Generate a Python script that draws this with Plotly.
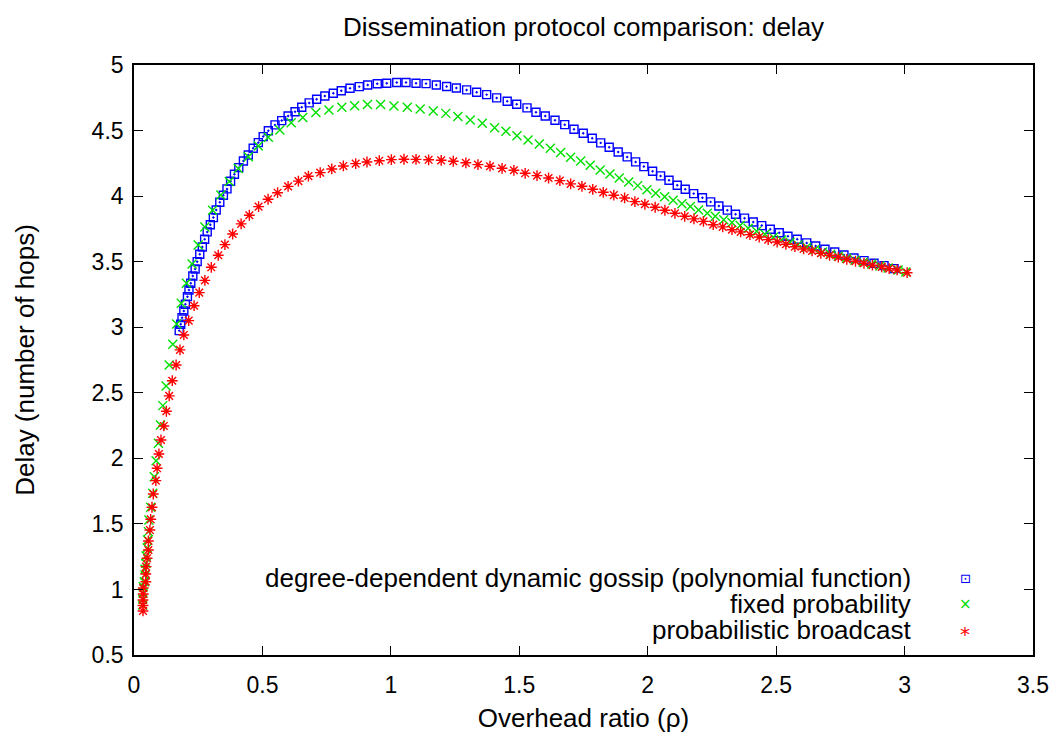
import plotly.graph_objects as go

# ---------------- data ----------------
gossip_overhead = [
    0.176, 0.182, 0.187, 0.194, 0.200, 0.208, 0.214, 0.221, 0.229, 0.238,
    0.246, 0.256, 0.266, 0.275, 0.285, 0.297, 0.309, 0.320, 0.334, 0.348,
    0.362, 0.376, 0.391, 0.408, 0.426, 0.445, 0.464, 0.484, 0.503, 0.523,
    0.549, 0.575, 0.600, 0.627, 0.653, 0.682, 0.711, 0.743, 0.776, 0.807,
    0.841, 0.877, 0.910, 0.947, 0.984, 1.023, 1.059, 1.098, 1.137, 1.177,
    1.217, 1.255, 1.295, 1.334, 1.373, 1.412, 1.453, 1.490, 1.530, 1.565,
    1.601, 1.639, 1.677, 1.713, 1.749, 1.784, 1.817, 1.850, 1.885, 1.920,
    1.953, 1.985, 2.019, 2.050, 2.083, 2.115, 2.146, 2.179, 2.213, 2.245,
    2.277, 2.310, 2.342, 2.377, 2.411, 2.444, 2.477, 2.512, 2.546, 2.582,
    2.619, 2.654, 2.690, 2.728, 2.764, 2.803, 2.842, 2.881, 2.920, 2.959,
]
gossip_delay = [
    2.974, 3.023, 3.073, 3.124, 3.175, 3.233, 3.284, 3.335, 3.391, 3.444,
    3.500, 3.557, 3.612, 3.671, 3.727, 3.782, 3.836, 3.894, 3.953, 4.007,
    4.055, 4.113, 4.167, 4.217, 4.268, 4.314, 4.365, 4.408, 4.454, 4.499,
    4.543, 4.576, 4.611, 4.644, 4.678, 4.711, 4.739, 4.764, 4.785, 4.804,
    4.823, 4.835, 4.848, 4.857, 4.861, 4.866, 4.866, 4.861, 4.858, 4.848,
    4.836, 4.825, 4.810, 4.792, 4.774, 4.749, 4.724, 4.701, 4.673, 4.640,
    4.611, 4.579, 4.545, 4.510, 4.480, 4.441, 4.406, 4.373, 4.337, 4.299,
    4.261, 4.225, 4.190, 4.154, 4.121, 4.083, 4.052, 4.019, 3.988, 3.956,
    3.925, 3.893, 3.862, 3.832, 3.803, 3.775, 3.747, 3.721, 3.694, 3.671,
    3.643, 3.620, 3.595, 3.574, 3.551, 3.528, 3.508, 3.488, 3.470, 3.447,
]

fixed_overhead = [
    0.034, 0.034, 0.035, 0.036, 0.040, 0.043, 0.043, 0.046, 0.047, 0.052,
    0.053, 0.056, 0.058, 0.065, 0.073, 0.079, 0.086, 0.095, 0.103, 0.112,
    0.125, 0.137, 0.151, 0.166, 0.184, 0.204, 0.226, 0.250, 0.276, 0.306,
    0.338, 0.371, 0.406, 0.445, 0.484, 0.523, 0.568, 0.612, 0.657, 0.708,
    0.759, 0.809, 0.859, 0.909, 0.960, 1.012, 1.064, 1.114, 1.165, 1.214,
    1.261, 1.309, 1.356, 1.404, 1.448, 1.491, 1.534, 1.578, 1.621, 1.661,
    1.700, 1.739, 1.776, 1.815, 1.853, 1.889, 1.926, 1.961, 1.997, 2.031,
    2.066, 2.099, 2.133, 2.166, 2.198, 2.232, 2.263, 2.296, 2.328, 2.360,
    2.391, 2.424, 2.457, 2.489, 2.521, 2.554, 2.585, 2.619, 2.651, 2.681,
    2.712, 2.742, 2.774, 2.807, 2.839, 2.872, 2.904, 2.936, 2.975, 3.005,
]
fixed_delay = [
    0.881, 0.927, 0.973, 1.021, 1.059, 1.110, 1.154, 1.200, 1.255, 1.316,
    1.377, 1.441, 1.530, 1.627, 1.733, 1.860, 1.982, 2.115, 2.254, 2.402,
    2.552, 2.712, 2.870, 3.025, 3.183, 3.335, 3.483, 3.627, 3.765, 3.892,
    4.009, 4.112, 4.211, 4.301, 4.383, 4.449, 4.505, 4.560, 4.599, 4.637,
    4.657, 4.678, 4.689, 4.699, 4.699, 4.688, 4.678, 4.665, 4.650, 4.631,
    4.608, 4.581, 4.556, 4.522, 4.495, 4.461, 4.428, 4.398, 4.365, 4.332,
    4.297, 4.268, 4.235, 4.200, 4.169, 4.139, 4.108, 4.080, 4.049, 4.022,
    3.996, 3.968, 3.942, 3.920, 3.894, 3.869, 3.846, 3.820, 3.798, 3.775,
    3.755, 3.732, 3.709, 3.686, 3.666, 3.648, 3.628, 3.610, 3.592, 3.574,
    3.557, 3.541, 3.526, 3.511, 3.496, 3.483, 3.467, 3.452, 3.437, 3.422,
]

broadcast_overhead = [
    0.035, 0.035, 0.035, 0.036, 0.036, 0.046, 0.046, 0.047, 0.051, 0.056,
    0.056, 0.062, 0.065, 0.070, 0.075, 0.085, 0.090, 0.097, 0.105, 0.116,
    0.126, 0.137, 0.149, 0.164, 0.179, 0.194, 0.213, 0.234, 0.254, 0.276,
    0.301, 0.328, 0.354, 0.384, 0.417, 0.449, 0.485, 0.522, 0.559, 0.600,
    0.640, 0.679, 0.725, 0.770, 0.815, 0.863, 0.907, 0.955, 1.002, 1.051,
    1.098, 1.147, 1.196, 1.243, 1.292, 1.339, 1.386, 1.433, 1.479, 1.523,
    1.569, 1.614, 1.658, 1.700, 1.744, 1.786, 1.827, 1.868, 1.910, 1.950,
    1.989, 2.029, 2.067, 2.106, 2.144, 2.180, 2.217, 2.255, 2.292, 2.328,
    2.362, 2.398, 2.434, 2.469, 2.504, 2.538, 2.573, 2.607, 2.640, 2.674,
    2.708, 2.742, 2.775, 2.809, 2.842, 2.875, 2.911, 2.940, 2.971, 3.010,
]
broadcast_delay = [
    0.836, 0.878, 0.920, 0.965, 1.011, 1.059, 1.118, 1.174, 1.238, 1.301,
    1.370, 1.453, 1.535, 1.627, 1.728, 1.830, 1.924, 2.033, 2.140, 2.247,
    2.359, 2.476, 2.592, 2.712, 2.827, 2.941, 3.050, 3.164, 3.264, 3.357,
    3.457, 3.549, 3.630, 3.711, 3.788, 3.854, 3.920, 3.976, 4.026, 4.074,
    4.114, 4.152, 4.179, 4.207, 4.230, 4.248, 4.260, 4.270, 4.278, 4.281,
    4.280, 4.277, 4.273, 4.266, 4.254, 4.240, 4.228, 4.212, 4.197, 4.174,
    4.156, 4.138, 4.118, 4.093, 4.075, 4.052, 4.029, 4.007, 3.986, 3.958,
    3.938, 3.915, 3.892, 3.869, 3.846, 3.826, 3.807, 3.782, 3.765, 3.744,
    3.727, 3.706, 3.688, 3.668, 3.650, 3.633, 3.614, 3.597, 3.582, 3.564,
    3.549, 3.534, 3.518, 3.503, 3.488, 3.473, 3.460, 3.447, 3.437, 3.416,
]

series_names = [
    "degree-dependent dynamic gossip (polynomial function)",
    "fixed probability",
    "probabilistic broadcast",
]
series_colors = ["#0000ff", "#00e000", "#ff0000"]
series_symbols = ["square-open-dot", "x-thin-open", "asterisk-open"]
legend_glyphs = ["\u22a1", "\u00d7", "*"]
legend_glyph_sizes = [13, 15, 20]
legend_glyph_dy = [0, 0, -4]

title_text = "Dissemination protocol comparison: delay"
x_title = "Overhead ratio (\u03c1)"
y_title = "Delay (number of hops)"

FONT = "Liberation Sans, Arial, Helvetica, sans-serif"

fig = go.Figure()
data_xy = [
    (gossip_overhead, gossip_delay),
    (fixed_overhead, fixed_delay),
    (broadcast_overhead, broadcast_delay),
]
sizes = [8, 9, 9]
for (xs, ys), name, col, sym, sz in zip(data_xy, series_names, series_colors,
                                         series_symbols, sizes):
    fig.add_trace(go.Scatter(
        x=xs, y=ys, mode="markers", name=name,
        marker=dict(symbol=sym, size=sz, color=col,
                    line=dict(color=col, width=1.4)),
        showlegend=False,
    ))

# gnuplot-style key: right-aligned text with the symbol on its right
key_rows = [0.1305, 0.0864, 0.0424]
annotations = []
for name, col, glyph, gsz, gdy, yy in zip(series_names, series_colors, legend_glyphs,
                                          legend_glyph_sizes, legend_glyph_dy, key_rows):
    annotations.append(dict(
        xref="paper", yref="paper", x=0.8654, y=yy, xanchor="right",
        yanchor="middle", text=name, showarrow=False, borderpad=0,
        font=dict(family=FONT, size=26, color="black")))
    annotations.append(dict(
        xref="paper", yref="paper", x=0.9244, y=yy, xanchor="center",
        yanchor="middle", yshift=gdy, text=glyph, showarrow=False,
        borderpad=0,
        font=dict(family="DejaVu Sans", size=gsz, color=col)))

axis_common = dict(
    showgrid=False, zeroline=False, showline=True, linecolor="black",
    linewidth=1.6, mirror="ticks", ticks="inside", ticklen=9,
    tickwidth=1.2, tickcolor="black",
    tickfont=dict(family=FONT, size=23, color="black"),
    title_font=dict(family=FONT, size=26, color="black"),
)

fig.update_layout(
    width=1054, height=732,
    paper_bgcolor="white", plot_bgcolor="white",
    margin=dict(l=126, r=29, t=57, b=85, autoexpand=False),
    title=dict(text=title_text, xref="paper", x=0.5, xanchor="center",
               y=0.974, yanchor="middle",
               font=dict(family=FONT, size=26, color="black")),
    xaxis=dict(range=[0, 3.5], dtick=0.5, tick0=0,
               title=dict(text=x_title, standoff=11), ticklabelstandoff=9,
               **axis_common),
    yaxis=dict(range=[0.5, 5], dtick=0.5, tick0=0.5,
               title=dict(text=y_title, standoff=50), ticklabelstandoff=4,
               **axis_common),
    annotations=annotations,
    showlegend=False,
)

fig.write_html("out.html")
